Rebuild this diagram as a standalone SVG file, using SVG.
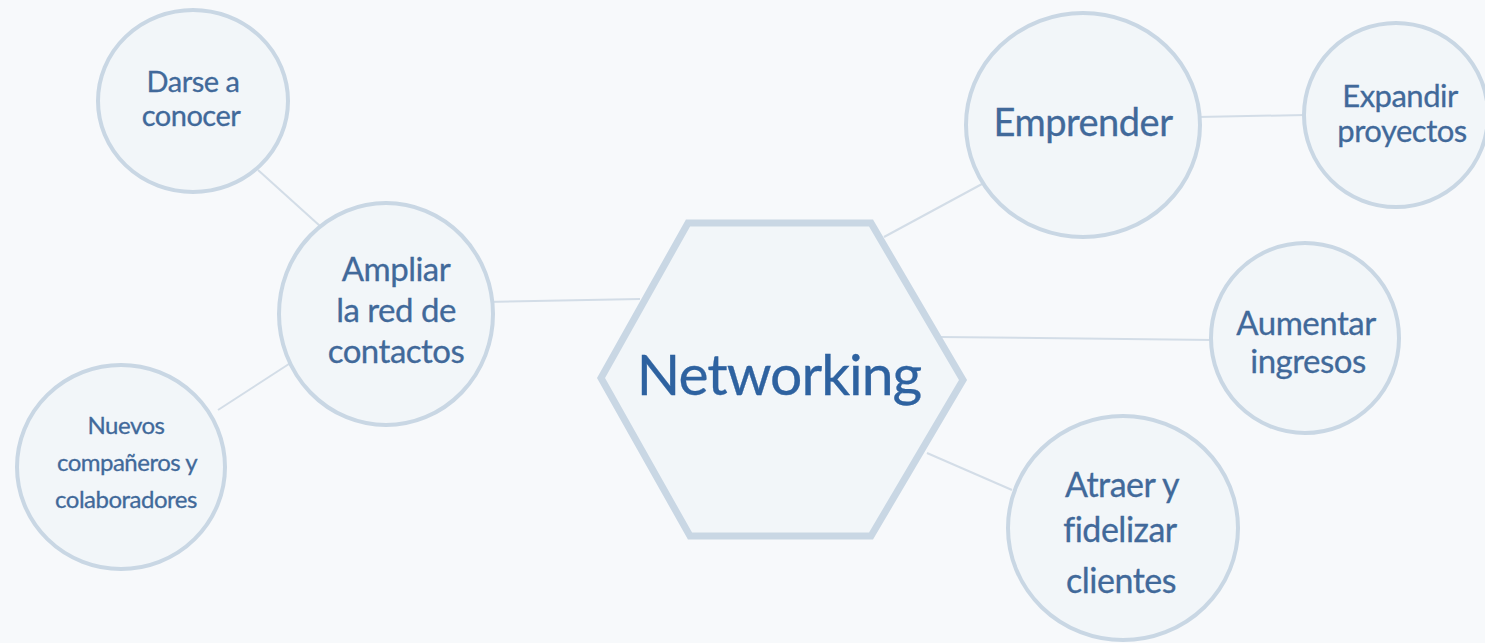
<svg xmlns="http://www.w3.org/2000/svg" width="1485" height="643" viewBox="0 0 1485 643">
<style>
.bg{fill:#f7f9fb}
.node{fill:#f2f6f9;stroke:#c9d7e4;stroke-width:4}
.hex{fill:#f2f6f9;stroke:#c9d7e4;stroke-width:7;stroke-linejoin:miter}
.conn line{stroke:#d3dde7;stroke-width:2}
text{font-family:Lato,"Open Sans","Liberation Sans",sans-serif;fill:#41699a;stroke:#41699a;stroke-width:0.3;text-anchor:middle;letter-spacing:-0.5px}
.main{fill:#2e62a0;stroke:#2e62a0;font-size:57px;letter-spacing:-1px}
</style>
<rect class="bg" x="0" y="0" width="1485" height="643"/>
<g id="connectors" class="conn">
<line x1="258" y1="170" x2="320" y2="226"/>
<line x1="218" y1="410" x2="292" y2="362"/>
<line x1="486" y1="302" x2="640" y2="299"/>
<line x1="884" y1="237" x2="982" y2="184"/>
<line x1="1198" y1="117" x2="1305" y2="115"/>
<line x1="940" y1="337" x2="1213" y2="340"/>
<line x1="927" y1="453" x2="1012" y2="490"/>
</g>
<g id="darse">
<ellipse class="node" cx="193" cy="101" rx="95" ry="91"/>
<text x="193" y="92" font-size="29">Darse a</text>
<text x="191" y="126" font-size="29">conocer</text>
</g>
<g id="ampliar">
<ellipse class="node" cx="386" cy="314" rx="107" ry="111"/>
<text x="396" y="281" font-size="33">Ampliar</text>
<text x="396" y="322" font-size="33">la red de</text>
<text x="396" y="363" font-size="33">contactos</text>
</g>
<g id="nuevos">
<ellipse class="node" cx="121" cy="467" rx="104" ry="102"/>
<text x="126" y="434" font-size="24">Nuevos</text>
<text x="127" y="471" font-size="24">compañeros y</text>
<text x="126" y="508" font-size="24">colaboradores</text>
</g>
<g id="networking">
<polygon class="hex" points="688,223 871,223 963,380 871,536 690,536 601,378"/>
<text class="main" x="779" y="395">Networking</text>
</g>
<g id="emprender">
<ellipse class="node" cx="1083" cy="125" rx="117" ry="112"/>
<text x="1083" y="136" font-size="38">Emprender</text>
</g>
<g id="expandir">
<ellipse class="node" cx="1396" cy="115" rx="92" ry="92"/>
<text x="1400" y="107" font-size="31">Expandir</text>
<text x="1402" y="142" font-size="31">proyectos</text>
</g>
<g id="aumentar">
<ellipse class="node" cx="1305" cy="338" rx="94" ry="95"/>
<text x="1306" y="335" font-size="33">Aumentar</text>
<text x="1308" y="373" font-size="33">ingresos</text>
</g>
<g id="atraer">
<ellipse class="node" cx="1123" cy="528" rx="115" ry="112"/>
<text x="1122" y="497" font-size="34">Atraer y</text>
<text x="1120" y="542" font-size="34">fidelizar</text>
<text x="1121" y="593" font-size="34">clientes</text>
</g>
</svg>
